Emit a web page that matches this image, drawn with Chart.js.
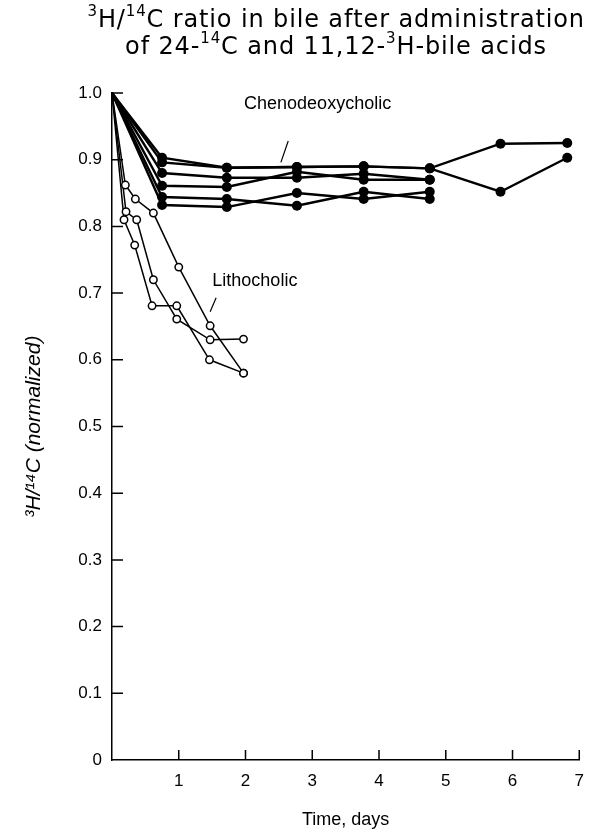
<!DOCTYPE html>
<html>
<head>
<meta charset="utf-8">
<title>3H/14C ratio in bile</title>
<script src="https://cdn.jsdelivr.net/npm/chart.js@4.4.0/dist/chart.umd.min.js"></script>
<style>
  html, body { margin: 0; padding: 0; background: #fff; }
  #wrap { position: relative; width: 595px; height: 837px; }
</style>
</head>
<body>
<div id="wrap"><canvas id="bileChart"></canvas></div>
<script>
'use strict';

// sampling times, days
var chenoDays = [0, 0.75, 1.72, 2.77, 3.77, 4.76, 5.82, 6.82];
var lithoDays1 = [0, 0.20, 0.35, 0.62, 1.00, 1.47, 1.97];
var lithoDays2 = [0, 0.21, 0.37, 0.62, 0.97, 1.47, 1.97];
var lithoDays3 = [0, 0.18, 0.34, 0.60, 0.97, 1.46, 1.97];

// 3H/14C ratio (normalized), chenodeoxycholic (filled dots)
var cheno1 = [1.0, 0.903, 0.888, 0.889, 0.890, 0.887, 0.924, 0.925];
var cheno2 = [1.0, 0.896, 0.888, 0.889, 0.890, 0.887, 0.852, 0.903];
var cheno3 = [1.0, 0.880, 0.873, 0.873, 0.879, 0.870];
var cheno4 = [1.0, 0.861, 0.859, 0.882, 0.870, 0.870];
var cheno5 = [1.0, 0.844, 0.841, 0.831, 0.852, 0.841];
var cheno6 = [1.0, 0.832, 0.829, 0.850, 0.841, 0.852];

// lithocholic (open circles)
var litho1 = [1.0, 0.862, 0.841, 0.820, 0.739, 0.651, 0.580];
var litho2 = [1.0, 0.822, 0.810, 0.720, 0.661, 0.630, 0.631];
var litho3 = [1.0, 0.810, 0.772, 0.681, 0.681, 0.600, 0.580];

var xTickLabels = ['', '1', '2', '3', '4', '5', '6', '7'];
var yTickLabels = ['0', '0.1', '0.2', '0.3', '0.4', '0.5', '0.6', '0.7', '0.8', '0.9', '1.0'];

var FONT = "'Liberation Sans', Arial, sans-serif";
var TITLE_FONT = "'DejaVu Sans', 'Liberation Sans', sans-serif";

function toPoints(days, vals) {
  return vals.map(function (v, i) { return { x: days[i], y: v }; });
}
// no marker on the common starting point at day 0
function radii(n, r) {
  var out = [];
  for (var i = 0; i < n; i++) out.push(i === 0 ? 0 : r);
  return out;
}

function chenoSet(vals) {
  return {
    data: toPoints(chenoDays, vals),
    borderColor: '#000',
    borderWidth: 2.4,
    pointRadius: radii(vals.length, 5),
    pointBackgroundColor: '#000',
    pointBorderColor: '#000',
    pointBorderWidth: 0,
    tension: 0
  };
}
function lithoSet(days, vals) {
  return {
    data: toPoints(days, vals),
    borderColor: '#000',
    borderWidth: 1.5,
    pointRadius: radii(vals.length, 3.7),
    pointBackgroundColor: '#fff',
    pointBorderColor: '#000',
    pointBorderWidth: 1.5,
    tension: 0
  };
}

// title with real superscripts, leader labels and inward tick marks
var figureText = {
  id: 'figureText',
  afterDraw: function (chart) {
    var ctx = chart.ctx;
    var xs = chart.scales.x, ys = chart.scales.y;

    function width(list, size, spacing) {
      var small = Math.round(size * 0.64), w = 0, n = 0;
      list.forEach(function (s) {
        ctx.font = (s[1] ? small : size) + 'px ' + TITLE_FONT;
        w += ctx.measureText(s[0]).width;
        n += s[0].length;
      });
      return w + n * spacing;
    }
    function seg(list, cx, cy, size, spacing) {
      var small = Math.round(size * 0.64);
      var x = cx - width(list, size, spacing) / 2;
      list.forEach(function (s) {
        ctx.font = (s[1] ? small : size) + 'px ' + TITLE_FONT;
        for (var i = 0; i < s[0].length; i++) {
          var ch = s[0].charAt(i);
          ctx.fillText(ch, x, s[1] ? cy - size * 0.36 : cy);
          x += ctx.measureText(ch).width + spacing;
        }
      });
    }

    ctx.save();
    ctx.fillStyle = '#000';
    ctx.strokeStyle = '#000';
    ctx.textBaseline = 'middle';
    ctx.textAlign = 'left';

    var line1 = [['3', true], ['H/', false], ['14', true], ['C ratio in bile after administration', false]];
    var line2 = [['of 24-', false], ['14', true], ['C and 11,12-', false], ['3', true], ['H-bile acids', false]];
    var size = 24;
    var n1 = 0;
    line1.forEach(function (s) { n1 += s[0].length; });
    var spacing = Math.max(0, (497 - width(line1, size, 0)) / n1);
    seg(line1, 336, 21, size, spacing);
    seg(line2, 336, 48, size, spacing);

    // tick marks point into the plot
    ctx.lineWidth = 1.5;
    ctx.beginPath();
    xs.ticks.forEach(function (t) {
      if (t.value === 0) return;
      var px = xs.getPixelForValue(t.value);
      ctx.moveTo(px, ys.bottom);
      ctx.lineTo(px, ys.bottom - 10);
    });
    ys.ticks.forEach(function (t) {
      if (t.value === 0) return;
      var py = ys.getPixelForValue(t.value);
      ctx.moveTo(xs.left, py);
      ctx.lineTo(xs.left + 11, py);
    });
    ctx.stroke();

    // curve labels
    ctx.font = '18px ' + FONT;
    ctx.textAlign = 'center';
    ctx.fillText('Chenodeoxycholic', xs.getPixelForValue(3.08), ys.getPixelForValue(0.984));
    ctx.fillText('Lithocholic', xs.getPixelForValue(2.14), ys.getPixelForValue(0.718));
    ctx.lineWidth = 1.2;
    ctx.beginPath();
    ctx.moveTo(xs.getPixelForValue(2.64), ys.getPixelForValue(0.928));
    ctx.lineTo(xs.getPixelForValue(2.53), ys.getPixelForValue(0.896));
    ctx.moveTo(xs.getPixelForValue(1.56), ys.getPixelForValue(0.693));
    ctx.lineTo(xs.getPixelForValue(1.47), ys.getPixelForValue(0.672));
    ctx.stroke();
    ctx.restore();
  }
};

var bileChart = new Chart(document.getElementById('bileChart'), {
  type: 'line',
  data: {
    datasets: [
      lithoSet(lithoDays1, litho1),
      lithoSet(lithoDays2, litho2),
      lithoSet(lithoDays3, litho3),
      chenoSet(cheno1),
      chenoSet(cheno2),
      chenoSet(cheno3),
      chenoSet(cheno4),
      chenoSet(cheno5),
      chenoSet(cheno6)
    ]
  },
  options: {
    responsive: true,
    maintainAspectRatio: false,
    animation: false,
    clip: false,
    layout: { padding: { top: 93, right: 8, left: 0, bottom: 0 } },
    plugins: {
      legend: { display: false },
      title: { display: false },
      tooltip: { enabled: false }
    },
    scales: {
      x: {
        type: 'linear',
        min: 0,
        max: 7,
        afterFit: function (scale) { scale.height = 77; },
        ticks: {
          stepSize: 1,
          padding: 11,
          color: '#000',
          font: { family: FONT, size: 17 },
          maxRotation: 0,
          callback: function (value, index) { return xTickLabels[index]; }
        },
        grid: { drawOnChartArea: false, drawTicks: false },
        border: { color: '#000', width: 1.5 },
        title: {
          display: true,
          text: 'Time, days',
          color: '#000',
          font: { family: FONT, size: 18 },
          padding: { top: 0, bottom: 6 }
        }
      },
      y: {
        type: 'linear',
        min: 0,
        max: 1,
        afterFit: function (scale) { scale.width = 112; },
        ticks: {
          stepSize: 0.1,
          padding: 10,
          color: '#000',
          font: { family: FONT, size: 17 },
          callback: function (value, index) { return yTickLabels[index]; }
        },
        grid: { drawOnChartArea: false, drawTicks: false },
        border: { color: '#000', width: 1.5 },
        title: {
          display: true,
          text: '³H/¹⁴C (normalized)',
          color: '#000',
          font: { family: FONT, size: 21, style: 'italic' },
          padding: { top: 22, bottom: 0 }
        }
      }
    }
  },
  plugins: [figureText]
});
</script>
</body>
</html>
